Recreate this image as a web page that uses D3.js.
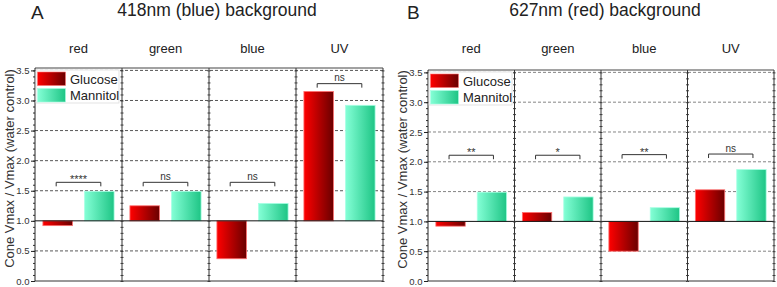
<!DOCTYPE html>
<html>
<head>
<meta charset="utf-8">
<script src="https://cdn.jsdelivr.net/npm/d3@7"></script>
<style>
  body { margin: 0; background: #fff; }
  svg { display: block; font-family: "Liberation Sans", Arial, sans-serif; }
</style>
</head>
<body>
<div id="chart"></div>
<script>
// data
const cones = ["red", "green", "blue", "UV"];
const treatments = ["Glucose", "Mannitol"];
const yTicks = [0, 0.5, 1.0, 1.5, 2.0, 2.5, 3.0, 3.5];

const glucoseA = [0.92, 1.25, 0.37, 3.15];
const mannitolA = [1.49, 1.49, 1.29, 2.92];
const sigLabelA = ["****", "ns", "ns", "ns"];
const sigLevelA = [1.64, 1.64, 1.64, 3.28];

const glucoseB = [0.92, 1.15, 0.50, 1.53];
const mannitolB = [1.49, 1.41, 1.23, 1.87];
const sigLabelB = ["**", "*", "**", "ns"];
const sigLevelB = [2.11, 2.11, 2.12, 2.13];

const width = 777, height = 287;
const baseline = 1.0;

const svg = d3.select("#chart").append("svg")
    .attr("width", width)
    .attr("height", height);

const defs = svg.append("defs");
function grad(id, c0, c1) {
    const g = defs.append("linearGradient").attr("id", id)
        .attr("x1", "0%").attr("x2", "100%").attr("y1", "0%").attr("y2", "0%");
    g.append("stop").attr("offset", "0%").attr("stop-color", c0);
    g.append("stop").attr("offset", "100%").attr("stop-color", c1);
}
grad("grad-Glucose", "#ff0000", "#6a0000");
grad("grad-Mannitol", "#84ffd6", "#1ec585");
const barStroke = { Glucose: "#ff7070", Mannitol: "#a8ffe4" };

const panels = [
    { letter: "A", title: "418nm (blue) background", left: 35, right: 383, top: 68,
      glucose: glucoseA, mannitol: mannitolA, sig: sigLabelA, sigY: sigLevelA,
      gridColor: "#444", titleX: 217, letterX: 31 },
    { letter: "B", title: "627nm (red) background", left: 428, right: 774, top: 70,
      glucose: glucoseB, mannitol: mannitolB, sig: sigLabelB, sigY: sigLevelB,
      gridColor: "#777", titleX: 605, letterX: 407 }
];
const bottom = 281;

panels.forEach(p => {
    const g = svg.append("g");

    const y = d3.scaleLinear().domain([0, 3.54]).range([bottom, p.top]);
    const x = d3.scaleBand().domain(cones).range([p.left, p.right]).padding(0);
    const xi = d3.scaleBand().domain(treatments)
        .range([0, x.bandwidth()])
        .paddingInner(0.29)
        .paddingOuter(0.19);

    // titles
    g.append("text")
        .attr("x", p.letterX).attr("y", 19)
        .attr("font-size", 19)
        .attr("fill", "#222")
        .text(p.letter);
    g.append("text")
        .attr("x", p.titleX).attr("y", 16)
        .attr("text-anchor", "middle")
        .attr("font-size", 17.5)
        .attr("fill", "#222")
        .text(p.title);

    // cone labels
    g.selectAll(".cone")
        .data(cones)
        .enter().append("text")
        .attr("x", d => x(d) + x.bandwidth() / 2)
        .attr("y", 53)
        .attr("text-anchor", "middle")
        .attr("font-size", 13)
        .attr("fill", "#222")
        .text(d => d);

    // dashed grid
    g.selectAll(".grid")
        .data(yTicks.filter(t => t !== baseline && t !== 0))
        .enter().append("line")
        .attr("x1", p.left).attr("x2", p.right)
        .attr("y1", d => y(d)).attr("y2", d => y(d))
        .attr("stroke", p.gridColor)
        .attr("stroke-width", 0.9)
        .attr("stroke-dasharray", "3,2");

    // bars
    const rows = cones.map((c, i) => ({ cone: c, Glucose: p.glucose[i], Mannitol: p.mannitol[i] }));
    rows.forEach(r => {
        treatments.forEach(t => {
            const v = r[t];
            g.append("rect")
                .attr("x", x(r.cone) + xi(t))
                .attr("y", y(Math.max(v, baseline)))
                .attr("width", xi.bandwidth())
                .attr("height", Math.abs(y(v) - y(baseline)))
                .attr("fill", `url(#grad-${t})`)
                .attr("stroke", barStroke[t])
                .attr("stroke-width", 0.8);
        });
    });

    // baseline at 1.0
    g.append("line")
        .attr("x1", p.left).attr("x2", p.right)
        .attr("y1", y(baseline)).attr("y2", y(baseline))
        .attr("stroke", "#111")
        .attr("stroke-width", 1);

    // significance brackets
    cones.forEach((c, i) => {
        const x0 = x(c) + xi("Glucose") + xi.bandwidth() / 2 - 1.5;
        const x1 = x(c) + xi("Mannitol") + xi.bandwidth() / 2 + 1.5;
        const yy = y(p.sigY[i]);
        g.append("path")
            .attr("d", `M${x0},${yy + 4}V${yy}H${x1}V${yy + 4}`)
            .attr("fill", "none")
            .attr("stroke", "#333")
            .attr("stroke-width", 1);
        g.append("text")
            .attr("x", (x0 + x1) / 2)
            .attr("y", yy - (p.sig[i] === "ns" ? 2.5 : -1))
            .attr("text-anchor", "middle")
            .attr("font-size", p.sig[i] === "ns" ? 10 : 11)
            .attr("fill", "#333")
            .text(p.sig[i]);
    });

    // panel dividers and frame with small ticks
    const dividers = cones.map(c => x(c)).slice(1);
    dividers.concat([p.right]).forEach(xx => {
        g.append("g")
            .attr("transform", `translate(${xx},0)`)
            .call(d3.axisLeft(y).ticks(35).tickSize(1.5).tickFormat(""))
            .call(a => a.select(".domain").remove())
            .selectAll("line").attr("stroke", "#444");
        g.append("g")
            .attr("transform", `translate(${xx},0)`)
            .call(d3.axisRight(y).ticks(35).tickSize(1.5).tickFormat(""))
            .call(a => a.select(".domain").remove())
            .selectAll("line").attr("stroke", "#444");
        g.append("line")
            .attr("x1", xx).attr("x2", xx)
            .attr("y1", p.top).attr("y2", bottom)
            .attr("stroke", "#333").attr("stroke-width", 1);
    });
    g.append("line")
        .attr("x1", p.left).attr("x2", p.right)
        .attr("y1", p.top).attr("y2", p.top)
        .attr("stroke", "#444").attr("stroke-width", 1);
    g.append("line")
        .attr("x1", p.left).attr("x2", p.right)
        .attr("y1", bottom).attr("y2", bottom)
        .attr("stroke", "#333").attr("stroke-width", 1);

    // y axis
    const minor = g.append("g")
        .attr("transform", `translate(${p.left},0)`)
        .call(d3.axisLeft(y).ticks(35).tickSize(2).tickFormat(""));
    minor.select(".domain").remove();
    minor.selectAll("line").attr("stroke", "#333");

    const axis = g.append("g")
        .attr("transform", `translate(${p.left},0)`)
        .call(d3.axisLeft(y).tickValues(yTicks).tickSize(4).tickPadding(1.5).tickFormat(d3.format(".1f")));
    axis.select(".domain")
        .attr("d", `M0,${p.top}V${bottom}`)
        .attr("stroke", "#222");
    axis.selectAll("line").attr("stroke", "#222");
    axis.selectAll("text")
        .attr("font-size", 9.5)
        .attr("font-family", "Liberation Sans, Arial, sans-serif")
        .attr("fill", "#333");

    g.append("text")
        .attr("transform", `translate(${p.left - 21},${(p.top + bottom) / 2 - 6}) rotate(-90)`)
        .attr("text-anchor", "middle")
        .attr("font-size", 13)
        .attr("fill", "#333")
        .text("Cone Vmax / Vmax (water control)");

    // legend
    const lg = g.append("g").attr("transform", `translate(${p.left + 1},${p.top + 2})`);
    lg.append("rect")
        .attr("width", 83).attr("height", 33)
        .attr("fill", "#fff")
        .attr("stroke", "#ddd")
        .attr("stroke-width", 0.8);
    treatments.forEach((t, i) => {
        lg.append("rect")
            .attr("x", 1.5).attr("y", 2 + i * 16.5)
            .attr("width", 28).attr("height", 13.5)
            .attr("fill", `url(#grad-${t})`)
            .attr("stroke", barStroke[t])
            .attr("stroke-width", 0.6);
        lg.append("text")
            .attr("x", 34).attr("y", 13.5 + i * 16.5)
            .attr("font-size", 13)
            .attr("fill", "#222")
            .text(t);
    });
});
</script>
</body>
</html>
